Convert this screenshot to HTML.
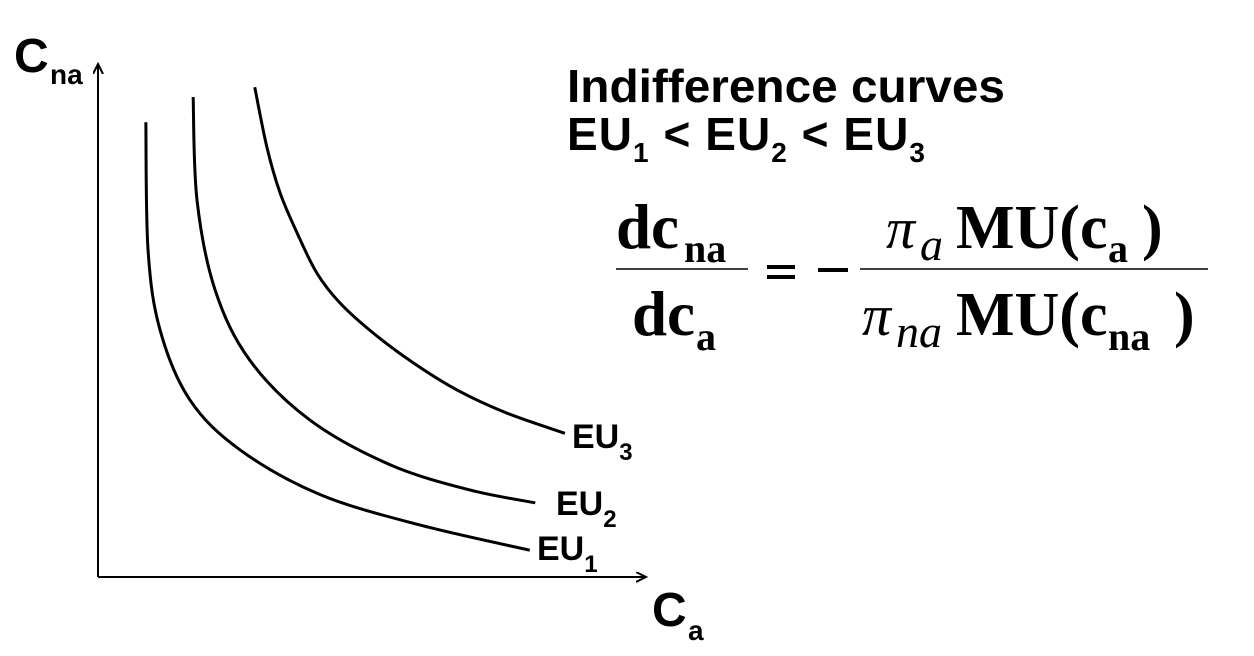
<!DOCTYPE html>
<html><head><meta charset="utf-8"><style>
body{margin:0;background:#fff;width:1254px;height:656px;overflow:hidden}
svg{display:block}
.s{font-family:"Liberation Sans",sans-serif;font-weight:bold}
.f{font-family:"Liberation Serif",serif;font-weight:bold}
.i{font-family:"Liberation Serif",serif;font-style:italic}
</style></head><body>
<svg width="1254" height="656">
<defs><marker id="ar" markerWidth="12" markerHeight="12" refX="10" refY="5" orient="auto" markerUnits="userSpaceOnUse"><path d="M0,0 L10,5 L0,10" fill="none" stroke="#000" stroke-width="2"/></marker></defs>
<line x1="98" y1="577" x2="98" y2="64" stroke="#000" stroke-width="2" marker-end="url(#ar)"/>
<line x1="98" y1="577" x2="646" y2="577" stroke="#000" stroke-width="2" marker-end="url(#ar)"/>
<g>
<text class="s" x="14" y="72" font-size="48">C</text>
<text class="s" x="50" y="84" font-size="28">na</text>
</g>
<g>
<text class="s" x="652" y="626" font-size="48">C</text>
<text class="s" x="688" y="640" font-size="28">a</text>
</g>
<g id="curves"></g>
<text class="s" x="572" y="448" font-size="34">EU<tspan font-size="24" dy="12">3</tspan></text>
<text class="s" x="556" y="515" font-size="34">EU<tspan font-size="24" dy="12">2</tspan></text>
<text class="s" x="537" y="560" font-size="34">EU<tspan font-size="24" dy="12">1</tspan></text>
<text class="s" x="567" y="102" font-size="46" textLength="438" lengthAdjust="spacingAndGlyphs">Indifference curves</text>
<text class="s" x="567" y="150" font-size="46" textLength="358" lengthAdjust="spacing">EU<tspan font-size="28" dy="12">1</tspan><tspan dy="-12"> &lt; EU</tspan><tspan font-size="28" dy="12">2</tspan><tspan dy="-12"> &lt; EU</tspan><tspan font-size="28" dy="12">3</tspan></text>
<g>
<text class="f" x="616" y="248" font-size="63">dc</text>
<text class="f" x="684" y="262" font-size="40">na</text>
<line x1="616" y1="269" x2="748" y2="269" stroke="#000" stroke-width="1.5"/>
<text class="f" x="632" y="335" font-size="63">dc</text>
<text class="f" x="696" y="350" font-size="40">a</text>
<rect x="767" y="265" width="28" height="4" fill="#000"/>
<rect x="767" y="275" width="28" height="4" fill="#000"/>
<rect x="818" y="268" width="30" height="4" fill="#000"/>
<text class="i" x="886" y="248" font-size="58">π</text>
<text class="i" x="920" y="260" font-size="46">a</text>
<text class="f" x="956" y="248" font-size="62">MU(c</text>
<text class="f" x="1108" y="262" font-size="40">a</text>
<text class="f" x="1142" y="248" font-size="62">)</text>
<line x1="860" y1="269" x2="1208" y2="269" stroke="#000" stroke-width="1.5"/>
<text class="i" x="862" y="335" font-size="58">π</text>
<text class="i" x="896" y="347" font-size="46">na</text>
<text class="f" x="956" y="335" font-size="62">MU(c</text>
<text class="f" x="1108" y="350" font-size="40">na</text>
<text class="f" x="1174" y="335" font-size="62">)</text>
</g>
</svg>
<script>
const eu1X=[8.7,9.1,11.3,16.7,25.8,40.4,58.5,78.5];
const eu1Y=[88.3,63.5,47.9,34.4,24.7,16.0,10.1,5.2];
const eu2X=[17.3,18,21.3,27.6,38.5,53.1,67.6,79.5];
const eu2Y=[93.2,73.2,55.7,42.1,30.5,21.8,16.9,14.4];
const eu3X=[28.5,30.7,33.1,36.2,39.8,44.0,50.0,57.3,65.3,74.4,84.9];
const eu3Y=[95.1,83.5,74.6,66.8,59.0,53.2,47.4,41.6,36.3,31.8,27.9];
const sx=v=>98+v*5.5, sy=v=>577-v*5.15;
function path(xs,ys){
 const p=xs.map((x,i)=>[sx(x),sy(ys[i])]);
 let d='M'+p[0][0]+','+p[0][1];
 for(let i=0;i<p.length-1;i++){
  const a=p[i-1]||p[i],b=p[i],c=p[i+1],e=p[i+2]||c;
  d+=` C${b[0]+(c[0]-a[0])/6},${b[1]+(c[1]-a[1])/6} ${c[0]-(e[0]-b[0])/6},${c[1]-(e[1]-b[1])/6} ${c[0]},${c[1]}`;
 }
 return d;
}
const g=document.getElementById('curves');
[[eu1X,eu1Y,'curve-eu1'],[eu2X,eu2Y,'curve-eu2'],[eu3X,eu3Y,'curve-eu3']].forEach(s=>{
 const el=document.createElementNS('http://www.w3.org/2000/svg','path');
 el.setAttribute('d',path(s[0],s[1]));
 el.setAttribute('fill','none');el.setAttribute('stroke','#000');el.setAttribute('stroke-width','3');
 
 
 g.appendChild(el);
});
</script>
</body></html>
